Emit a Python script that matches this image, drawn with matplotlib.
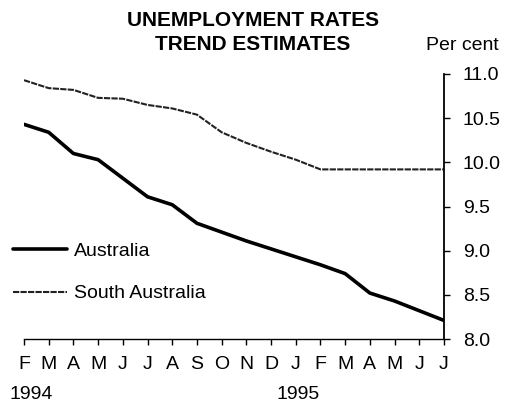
import numpy as np
import matplotlib.pyplot as plt
from matplotlib.transforms import blended_transform_factory

plt.rcParams['font.family'] = ['Liberation Sans', 'DejaVu Sans']

# Months Feb 1994 to Jul 1995
months = ['F', 'M', 'A', 'M', 'J', 'J', 'A', 'S', 'O', 'N', 'D',
          'J', 'F', 'M', 'A', 'M', 'J', 'J']
years = ['1994', '1995']
year_start_index = [0, 11]

# Trend estimates, per cent
australia = [10.43, 10.34, 10.10, 10.03, 9.82, 9.61, 9.52, 9.31, 9.21,
             9.11, 9.02, 8.93, 8.84, 8.74, 8.52, 8.43, 8.32, 8.21]
south_australia = [10.93, 10.84, 10.82, 10.73, 10.72, 10.65, 10.61, 10.54,
                   10.34, 10.22, 10.12, 10.03, 9.92, 9.92, 9.92, 9.92,
                   9.92, 9.92]

y_ticks = [8.0, 8.5, 9.0, 9.5, 10.0, 10.5, 11.0]

W, H = 507, 412
fig = plt.figure(figsize=(W / 100, H / 100), dpi=100)
ax = fig.add_axes([24 / W, 1 - 339 / H, 420 / W, 265 / H])

x = np.arange(len(months))
ax.plot(x, australia, color='black', linewidth=2.6, label='Australia',
        solid_capstyle='round')
ax.plot(x, south_australia, color='#222222', linewidth=1.5,
        linestyle=(0, (3, 0.6)), label='South Australia')

ax.set_xlim(0, len(months) - 1)
ax.set_ylim(8.0, 11.0)

# axes styling
for side in ['left', 'top']:
    ax.spines[side].set_visible(False)
ax.spines['right'].set_linewidth(1.3)
ax.spines['bottom'].set_linewidth(1.0)

ax.yaxis.tick_right()
ax.set_yticks(y_ticks)
ax.set_yticklabels([f'{v:.1f}' for v in y_ticks])
ax.set_xticks(x)
ax.set_xticklabels(months)
ax.tick_params(axis='y', direction='out', length=4.5, width=1.0, pad=9,
               labelsize=14)
ax.tick_params(axis='x', direction='out', length=4.5, width=1.0, pad=8,
               labelsize=14)

# year labels below the month letters
trans = blended_transform_factory(ax.transData, ax.transAxes)
ax.text(year_start_index[0] + 0.3, -0.21, years[0], transform=trans,
        ha='center', va='center', fontsize=14)
ax.text(year_start_index[1] + 0.1, -0.21, years[1], transform=trans,
        ha='center', va='center', fontsize=14)

# title and unit label
fig.text(253 / W, 1 - 21 / H, 'UNEMPLOYMENT RATES', ha='center', va='center',
         fontsize=15, fontweight='bold')
fig.text(253 / W, 1 - 45 / H, 'TREND ESTIMATES', ha='center', va='center',
         fontsize=15, fontweight='bold')
fig.text(462 / W, 1 - 45 / H, 'Per cent', ha='center', va='center',
         fontsize=14)

ax.legend(loc='upper left', bbox_to_anchor=(13 / W, 1 - 242 / H),
          bbox_transform=fig.transFigure, frameon=False, fontsize=14,
          handlelength=2.8, handletextpad=0.35, labelspacing=1.3,
          borderpad=0, borderaxespad=0)

fig.savefig('out.png', dpi=100)
